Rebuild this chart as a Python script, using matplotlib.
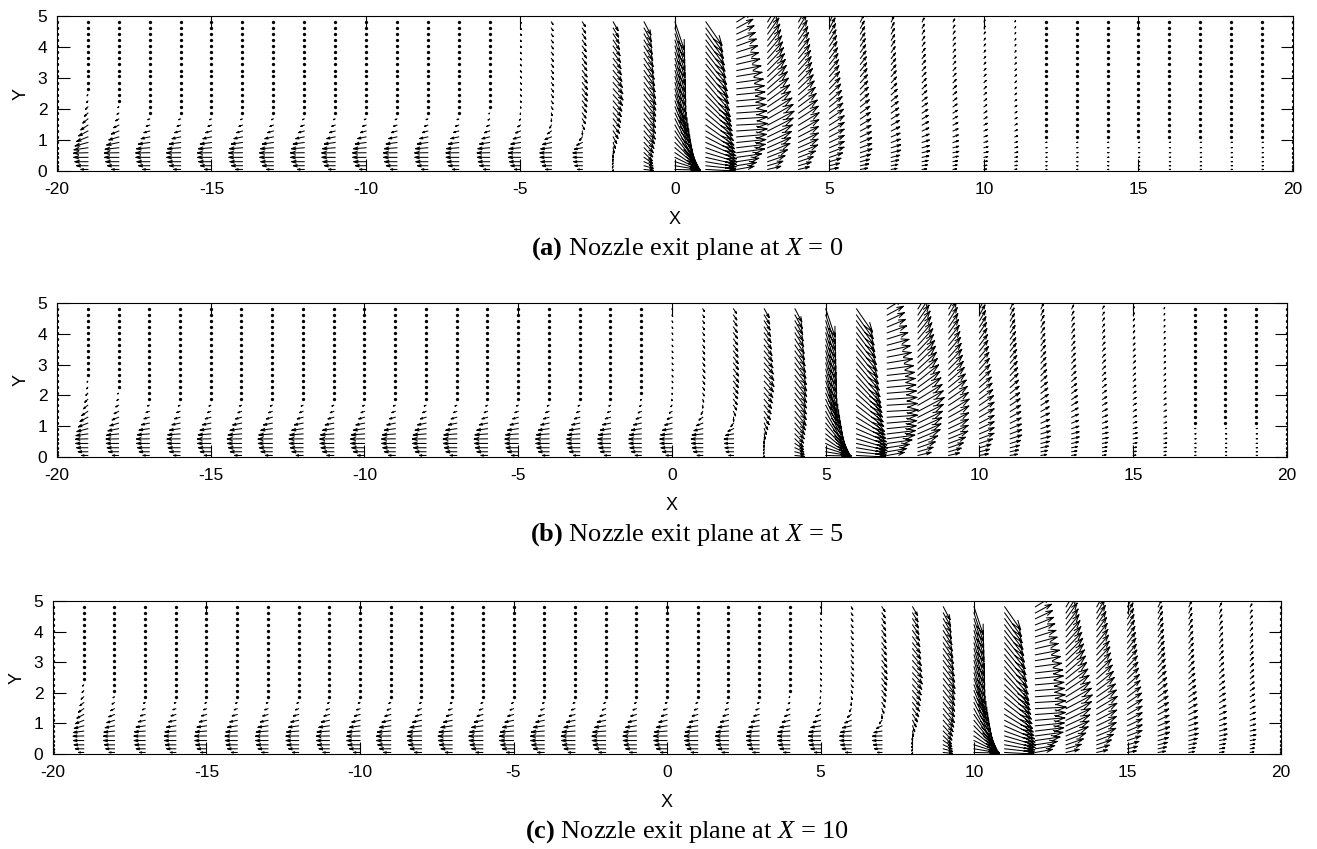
import numpy as np
import matplotlib.pyplot as plt

plt.rcParams['font.family'] = ['Liberation Sans', 'DejaVu Sans']
plt.rcParams['axes.unicode_minus'] = False
plt.rcParams['mathtext.fontset'] = 'custom'
plt.rcParams['mathtext.rm'] = 'Liberation Serif'
plt.rcParams['mathtext.it'] = 'Liberation Serif:italic'
plt.rcParams['mathtext.bf'] = 'Liberation Serif:bold'

# measurement grid
X_COLS = np.arange(-20, 21)
Y_LEVELS = [0.05, 0.17, 0.30, 0.44, 0.59, 0.75, 0.92, 1.10, 1.29, 1.48, 1.68,
            1.87, 2.07, 2.26, 2.46, 2.65, 2.85, 3.05, 3.24, 3.44, 3.63, 3.83,
            4.03, 4.22, 4.42, 4.61, 4.81]

NOZZLE_X = [0, 5, 10]
PANEL_TAGS = ['(a)', '(b)', '(c)']

# left-running wall jet, by distance from nozzle d = -30 .. 20
WJ_D = np.arange(-30, 21)
WJ_PEAK = [-0.34,
           -0.34, -0.35, -0.36, -0.37, -0.38, -0.39, -0.40, -0.41, -0.42, -0.43,
           -0.46, -0.46, -0.45, -0.45, -0.45, -0.44, -0.44, -0.44, -0.43, -0.43,
           -0.43, -0.42, -0.41, -0.40, -0.39, -0.37,
           -0.30, -0.04, 0.0,
           0, 0, 0, 0, 0, 0, 0, 0, 0, 0, 0, 0, 0, 0, 0, 0, 0, 0, 0, 0, 0]
WJ_WIDTH = [0.78] * 27 + [0.62, 0.5, 0.5] + [0.5] * 21
WJ_YPEAK = 0.55
WJ_WIDTH_BELOW = 0.8

# columns next to the left wall carry a thicker, tilted jet
EDGE_COLS = [-19, -18]
EDGE_WIDTH = [1.1, 0.9]
EDGE_TILT = [0.8, 0.5]

# jet / entrainment field near the nozzle, d = -8 .. 11, at anchor heights
JET_Y = [0.05, 0.6, 1.5, 2.7, 4.8]
JET_D = np.arange(-8, 12)
JET_U = [
    [0.00, 0.00, 0.00, 0.00, 0.00],
    [0.00, 0.00, 0.00, 0.01, 0.01],
    [0.00, 0.00, 0.00, 0.015, 0.01],
    [0.00, 0.00, 0.01, 0.03, 0.02],
    [0.00, 0.00, 0.04, 0.07, 0.05],
    [0.00, 0.00, 0.10, 0.17, 0.10],
    [0.00, 0.03, 0.20, 0.32, 0.16],
    [0.30, 0.26, 0.36, 0.38, 0.22],
    [0.82, 0.80, 0.60, 0.34, 0.30],
    [0.95, 1.00, 0.90, 0.78, 0.52],
    [0.55, 0.90, 1.00, 0.88, 0.48],
    [0.42, 0.72, 0.85, 0.62, 0.30],
    [0.34, 0.62, 0.66, 0.46, 0.23],
    [0.28, 0.47, 0.47, 0.33, 0.16],
    [0.23, 0.37, 0.33, 0.23, 0.11],
    [0.18, 0.30, 0.26, 0.17, 0.08],
    [0.14, 0.24, 0.20, 0.13, 0.06],
    [0.11, 0.18, 0.15, 0.10, 0.05],
    [0.08, 0.13, 0.10, 0.07, 0.03],
    [0.06, 0.09, 0.07, 0.05, 0.02],
]
JET_V = [
    [0.00, 0.00, 0.00, 0.00, 0.00],
    [0.00, 0.00, 0.00, -0.01, -0.01],
    [0.00, 0.00, -0.01, -0.025, -0.02],
    [0.00, 0.00, -0.02, -0.05, -0.04],
    [0.00, 0.00, -0.06, -0.10, -0.08],
    [0.00, 0.00, -0.13, -0.22, -0.15],
    [-0.05, -0.14, -0.26, -0.36, -0.28],
    [-0.03, -0.26, -0.45, -0.50, -0.42],
    [-0.02, -0.55, -1.10, -1.20, -0.90],
    [-0.05, -0.30, -0.65, -0.90, -0.75],
    [0.10, 0.12, 0.05, 0.10, 0.30],
    [0.10, 0.30, 0.45, 0.55, 0.50],
    [0.08, 0.25, 0.40, 0.45, 0.42],
    [0.05, 0.18, 0.30, 0.35, 0.32],
    [0.04, 0.12, 0.20, 0.25, 0.22],
    [0.03, 0.08, 0.15, 0.18, 0.17],
    [0.02, 0.06, 0.11, 0.13, 0.12],
    [0.02, 0.04, 0.08, 0.10, 0.09],
    [0.01, 0.03, 0.06, 0.07, 0.06],
    [0.01, 0.02, 0.04, 0.05, 0.04],
]
# weak drift far downstream of the jet
CALM_U = [0.035, 0.04, 0.02, 0.01, 0.01]
CALM_V = [0.00, 0.005, 0.01, 0.01, 0.01]


def column_field(x, xn):
    y = np.asarray(Y_LEVELS)
    if abs(x) == 20:
        return np.zeros_like(y), np.zeros_like(y)
    d = x - xn
    k = d - WJ_D[0]
    width = WJ_WIDTH[k]
    tilt = 0.3
    if x in EDGE_COLS:
        width = EDGE_WIDTH[EDGE_COLS.index(x)]
        tilt = EDGE_TILT[EDGE_COLS.index(x)]
    w = np.where(y < WJ_YPEAK, WJ_WIDTH_BELOW, width)
    g = np.exp(-((y - WJ_YPEAK) / w) ** 2) * (1 - np.exp(-y / 0.04))
    u = WJ_PEAK[k] * g
    v = u * tilt * np.clip((y - WJ_YPEAK) / width, 0, None)
    if JET_D[0] <= d <= JET_D[-1]:
        j = d - JET_D[0]
        u = u + np.interp(y, JET_Y, JET_U[j])
        v = v + np.interp(y, JET_Y, JET_V[j])
    elif d > JET_D[-1]:
        u = u + np.interp(y, JET_Y, CALM_U)
        v = v + np.interp(y, JET_Y, CALM_V)
    return u, v


def draw_arrows(ax, xn):
    xs, ys, us, vs = [], [], [], []
    for x in X_COLS:
        u, v = column_field(x, xn)
        xs.append(np.full(len(Y_LEVELS), float(x)))
        ys.append(np.asarray(Y_LEVELS))
        us.append(u)
        vs.append(v)
    x0 = np.concatenate(xs); y0 = np.concatenate(ys)
    u = np.concatenate(us); v = np.concatenate(vs)
    spd = np.hypot(u, v)
    big = spd >= 0.03
    # open arrowheads, sized with the arrow
    a, b = 0.33, 0.33
    tx, ty = x0 + u, y0 + v
    h1x = tx - a * (u + b * v); h1y = ty - a * (v - b * u)
    h2x = tx - a * (u - b * v); h2y = ty - a * (v + b * u)
    nan = np.full(u.shape, np.nan)
    px = np.column_stack([x0, tx, nan, h1x, tx, h2x, nan])[big].ravel()
    py = np.column_stack([y0, ty, nan, h1y, ty, h2y, nan])[big].ravel()
    ax.plot(px, py, color='k', lw=0.75)
    ax.plot(x0[~big], y0[~big], 'o', color='k', ms=2.4, mec='none')


fig = plt.figure(figsize=(13.17, 8.49), dpi=100)
W, H = 1317.0, 849.0
boxes = [(57, 16, 1293, 171), (57, 303, 1287, 457), (53, 601, 1281, 754)]

for (l, t, r, bt), xn, tag in zip(boxes, NOZZLE_X, PANEL_TAGS):
    ax = fig.add_axes([l / W, 1 - bt / H, (r - l) / W, (bt - t) / H])
    draw_arrows(ax, xn)
    ax.set_xlim(-20, 20)
    ax.set_ylim(0, 5)
    ax.set_xticks(np.arange(-20, 21, 5))
    ax.set_yticks(np.arange(0, 6, 1))
    ax.tick_params(direction='in', length=9, width=0.8, top=True, right=True,
                   labelsize=12.5, pad=7)
    ax.tick_params(axis='x', pad=8)
    for s in ax.spines.values():
        s.set_linewidth(0.8)
    ax.set_xlabel('X', fontsize=13, labelpad=10)
    ax.set_ylabel('Y', fontsize=13, labelpad=6)
    fig.text(687 / W, 1 - (bt + 78) / H,
             r'$\mathbf{' + tag + r'}$ Nozzle exit plane at $X$ = ' + str(xn),
             ha='center', va='center', fontsize=19, family='Liberation Serif')

fig.savefig('out.png', dpi=100)
